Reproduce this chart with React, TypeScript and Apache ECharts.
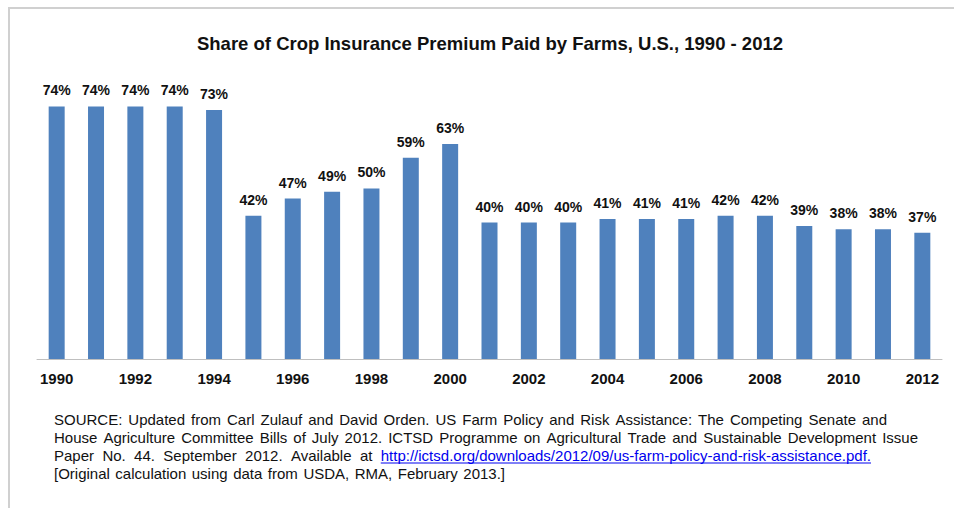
import React, { useEffect, useRef } from "react";
import * as echarts from "echarts";

const YEARS = [
  "1990", "1991", "1992", "1993", "1994", "1995", "1996", "1997", "1998", "1999", "2000",
  "2001", "2002", "2003", "2004", "2005", "2006", "2007", "2008", "2009", "2010", "2011", "2012",
];
const SHARES = [74, 74, 74, 74, 73, 42, 47, 49, 50, 59, 63, 40, 40, 40, 41, 41, 41, 42, 42, 39, 38, 38, 37];

const TITLE = "Share of Crop Insurance Premium Paid by Farms, U.S., 1990 - 2012";
const SOURCE_LINES = [
  "SOURCE: Updated from Carl Zulauf and David Orden. US Farm Policy and Risk Assistance: The Competing Senate and",
  "House Agriculture Committee Bills of July 2012. ICTSD Programme on Agricultural Trade and Sustainable Development Issue",
  "Paper No. 44. September 2012. Available at",
  "[Original calculation using data from USDA, RMA, February 2013.]",
];
const SOURCE_LINK = "http://ictsd.org/downloads/2012/09/us-farm-policy-and-risk-assistance.pdf.";

// layout of the source note (justified lines)
const SRC_X = 54;
const SRC_Y = 419;
const SRC_LH = 18;
const SRC_RIGHT: (number | null)[] = [887, 918, 871, 505];
const SRC_FONT_SIZE = 15;
const FONT = "'Liberation Sans', Arial, sans-serif";

function buildSource(): any[] {
  const canvas = document.createElement("canvas");
  const ctx = canvas.getContext("2d")!;
  ctx.font = `${SRC_FONT_SIZE}px ${FONT}`;
  const space = ctx.measureText(" ").width;
  const els: any[] = [];
  SOURCE_LINES.forEach((line, i) => {
    const words = line.split(" ");
    const linkIdx = i === 2 ? words.length : -1;
    if (i === 2) words.push(SOURCE_LINK);
    const widths = words.map((w) => ctx.measureText(w).width);
    const total = widths.reduce((a, b) => a + b, 0);
    const right = SRC_RIGHT[i];
    let gap = right != null && words.length > 1 ? (right - SRC_X - total) / (words.length - 1) : space;
    if (gap < space * 0.6) gap = space * 0.6;
    let x = SRC_X;
    const y = SRC_Y + i * SRC_LH;
    words.forEach((w, k) => {
      const isLink = k === linkIdx;
      els.push({
        type: "text",
        x,
        y,
        silent: true,
        style: {
          text: w,
          fill: isLink ? "#0000ee" : "#111111",
          font: `${SRC_FONT_SIZE}px ${FONT}`,
          align: "left",
          verticalAlign: "middle",
        },
      });
      if (isLink) {
        els.push({
          type: "line",
          silent: true,
          shape: { x1: x, y1: y + 8, x2: x + widths[k], y2: y + 8 },
          style: { stroke: "#0000ee", lineWidth: 1 },
        });
      }
      x += widths[k] + gap;
    });
  });
  return els;
}

export default function App() {
  const ref = useRef<HTMLDivElement>(null);
  useEffect(() => {
    if (!ref.current) return;
    const chart = echarts.init(ref.current, null, { renderer: "svg" });
    chart.setOption({
      animation: false,
      backgroundColor: "#ffffff",
      title: {
        text: TITLE,
        left: 485,
        top: 29,
        textAlign: "center",
        textStyle: { fontFamily: FONT, fontSize: 18.5, fontWeight: "bold", color: "#111111" },
      },
      grid: { left: 37, right: 12, top: 86, bottom: 149 },
      xAxis: {
        type: "category",
        data: YEARS,
        axisTick: { show: false },
        axisLine: { lineStyle: { color: "#bfbfbf", width: 1 } },
        axisLabel: {
          interval: 1,
          margin: 12,
          fontFamily: FONT,
          fontSize: 15,
          fontWeight: "bold",
          color: "#111111",
        },
      },
      yAxis: { type: "value", min: 0, max: 80, show: false, splitLine: { show: false } },
      series: [
        {
          type: "bar",
          data: SHARES,
          barWidth: 16,
          itemStyle: { color: "#4f81bd" },
          label: {
            show: true,
            position: "top",
            distance: 9,
            formatter: "{c}%",
            fontFamily: FONT,
            fontSize: 14,
            fontWeight: "bold",
            color: "#111111",
          },
        },
      ],
      graphic: [
        {
          type: "rect",
          silent: true,
          shape: { x: 9, y: 8, width: 1000, height: 600 },
          style: { fill: "none", stroke: "#d0d0d0", lineWidth: 2 },
        },
        ...buildSource(),
      ],
    });
    return () => chart.dispose();
  }, []);
  return <div ref={ref} style={{ position: "fixed", left: 0, top: 0, width: 954, height: 508 }} />;
}
